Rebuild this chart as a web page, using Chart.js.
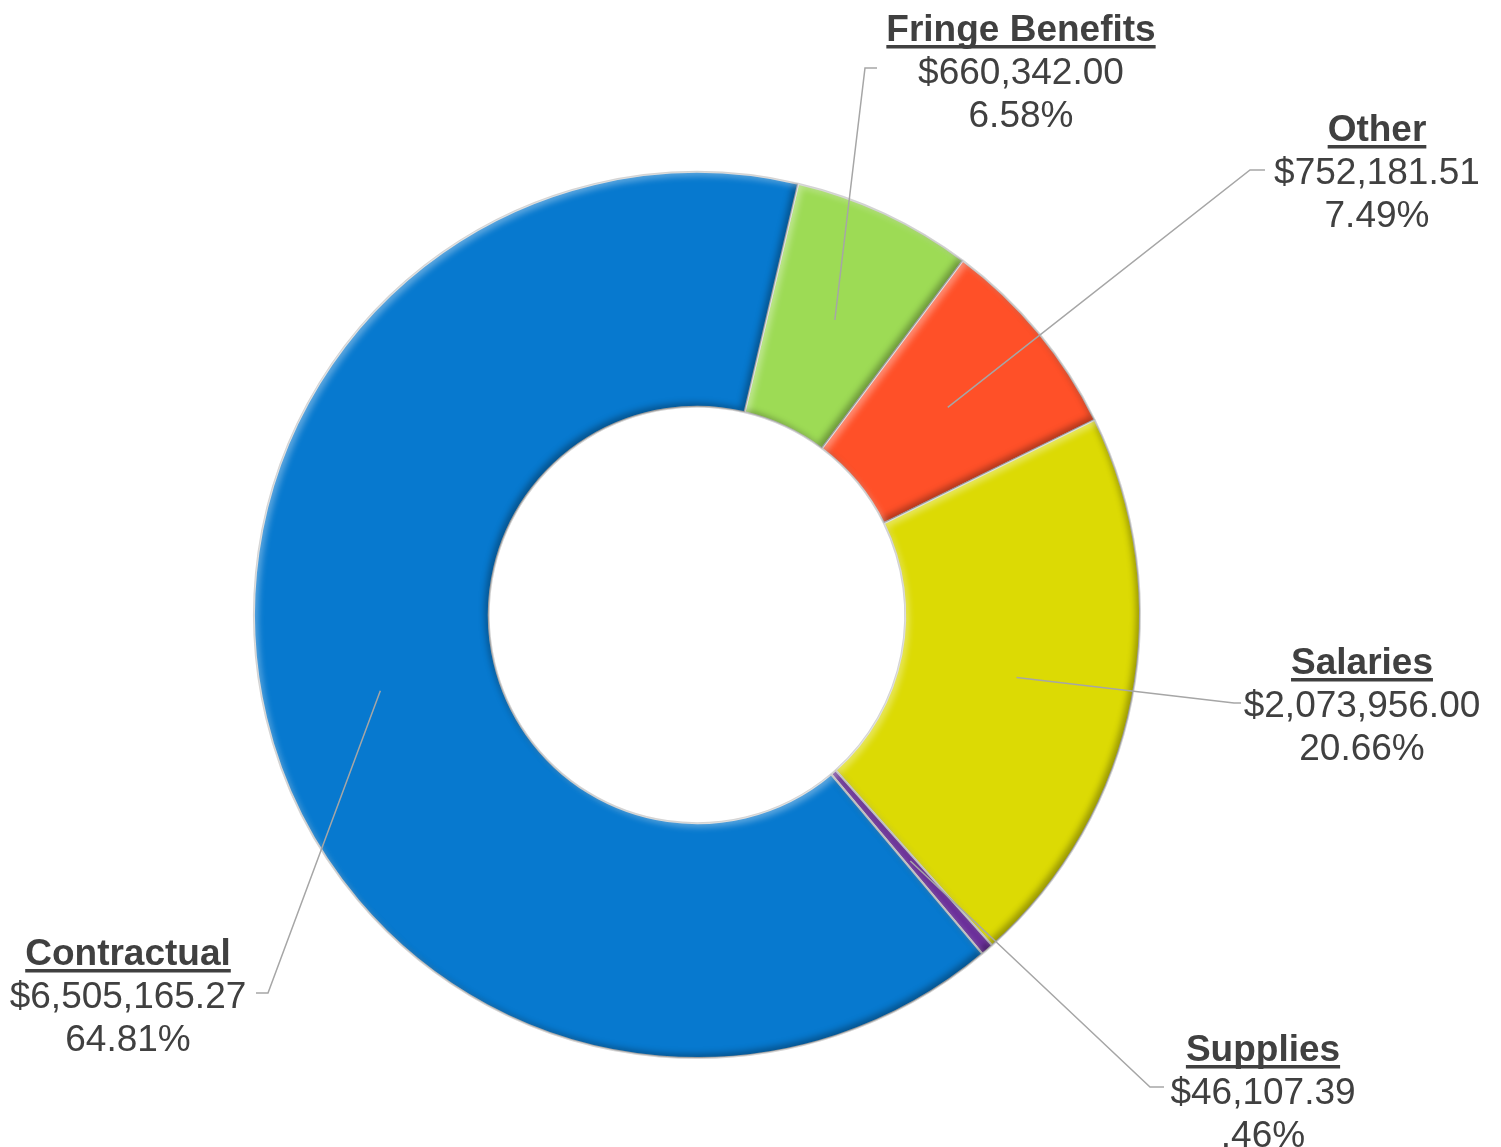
<!DOCTYPE html>
<html><head><meta charset="utf-8">
<script src="https://cdn.jsdelivr.net/npm/chart.js@4/dist/chart.umd.min.js"></script>
<style>html,body{margin:0;padding:0;background:#fff}#wrap{width:1501px;height:1147px;position:relative}canvas{display:block}</style>
</head><body><div id="wrap"><canvas id="c" width="1501" height="1147"></canvas></div>
<script>
// ---- data ----
const categories = ['Fringe Benefits', 'Other', 'Salaries', 'Supplies', 'Contractual'];
const amounts = [660342.00, 752181.51, 2073956.00, 46107.39, 6505165.27];
const amountLabels = ['$660,342.00', '$752,181.51', '$2,073,956.00', '$46,107.39', '$6,505,165.27'];
const percentLabels = ['6.58%', '7.49%', '20.66%', '.46%', '64.81%'];

// ---- styling / placement (not data) ----
const sliceColors = ['#9DDB55', '#FF5028', '#DCDA04', '#6B2C9C', '#0779CF'];
const labelLayout = [
  {cx: 1021, base: 41,   elbow: [865, 68],   end: [877, 68]},
  {cx: 1377, base: 141,  elbow: [1250, 170], end: [1265, 170]},
  {cx: 1362, base: 674,  elbow: [1234, 703], end: [1241, 703]},
  {cx: 1263, base: 1061, elbow: [1150, 1087], end: [1164, 1087]},
  {cx: 128,  base: 965,  elbow: [268, 993],  end: [256, 993]}
];
const TEXT_COLOR = '#404040';
const FONT_FAMILY = '"Liberation Sans", Arial, sans-serif';

function arcPath(ctx, a, dx, dy) {
  const cx = a.x + dx, cy = a.y + dy;
  ctx.moveTo(cx + a.outerRadius * Math.cos(a.startAngle), cy + a.outerRadius * Math.sin(a.startAngle));
  ctx.arc(cx, cy, a.outerRadius, a.startAngle, a.endAngle);
  ctx.lineTo(cx + a.innerRadius * Math.cos(a.endAngle), cy + a.innerRadius * Math.sin(a.endAngle));
  ctx.arc(cx, cy, a.innerRadius, a.endAngle, a.startAngle, true);
  ctx.closePath();
}

function innerShade(ctx, a, dx, dy, color, blur) {
  ctx.save();
  ctx.beginPath();
  arcPath(ctx, a, 0, 0);
  ctx.clip();
  ctx.filter = 'blur(' + blur + 'px)';
  ctx.fillStyle = color;
  ctx.beginPath();
  ctx.rect(-5000, -5000, 12000, 12000);
  arcPath(ctx, a, dx, dy);
  ctx.fill('evenodd');
  ctx.restore();
}

const bevelPlugin = {
  id: 'bevel',
  afterDatasetsDraw(chart) {
    const ctx = chart.ctx;
    const meta = chart.getDatasetMeta(0);
    meta.data.forEach((el) => {
      const a = el.getProps(['x', 'y', 'startAngle', 'endAngle', 'innerRadius', 'outerRadius'], true);
      innerShade(ctx, a, -4, -4, 'rgba(0,0,0,0.30)', 3);
      innerShade(ctx, a, 4, 4, 'rgba(255,255,255,0.35)', 3);
    });
  }
};

const labelPlugin = {
  id: 'calloutLabels',
  afterDraw(chart) {
    const ctx = chart.ctx;
    const meta = chart.getDatasetMeta(0);
    ctx.save();
    // leader lines
    ctx.strokeStyle = '#A6A6A6';
    ctx.lineWidth = 1.5;
    meta.data.forEach((el, i) => {
      const p = el.tooltipPosition(true);
      const L = labelLayout[i];
      ctx.beginPath();
      ctx.moveTo(p.x, p.y);
      ctx.lineTo(L.elbow[0], L.elbow[1]);
      ctx.lineTo(L.end[0], L.end[1]);
      ctx.stroke();
    });
    // text
    ctx.fillStyle = TEXT_COLOR;
    ctx.textAlign = 'center';
    ctx.textBaseline = 'alphabetic';
    categories.forEach((name, i) => {
      const L = labelLayout[i];
      ctx.font = 'bold 37px ' + FONT_FAMILY;
      ctx.fillText(name, L.cx, L.base);
      const w = ctx.measureText(name).width;
      ctx.fillRect(L.cx - w / 2, L.base + 4, w, 3.5);
      ctx.font = '37px ' + FONT_FAMILY;
      ctx.fillText(amountLabels[i], L.cx, L.base + 43);
      ctx.fillText(percentLabels[i], L.cx, L.base + 86);
    });
    ctx.restore();
  }
};

new Chart(document.getElementById('c'), {
  type: 'doughnut',
  data: {
    labels: categories,
    datasets: [{
      data: amounts,
      backgroundColor: sliceColors,
      borderColor: '#D4D4D4',
      borderWidth: 2,
      hoverOffset: 0
    }]
  },
  options: {
    responsive: false,
    animation: false,
    events: [],
    rotation: 13.2,
    cutout: '47%',
    radius: 443,
    layout: {padding: {left: 0, right: 107, top: 83, bottom: 0}},
    plugins: {legend: {display: false}, tooltip: {enabled: false}}
  },
  plugins: [bevelPlugin, labelPlugin]
});
</script>
</body></html>
